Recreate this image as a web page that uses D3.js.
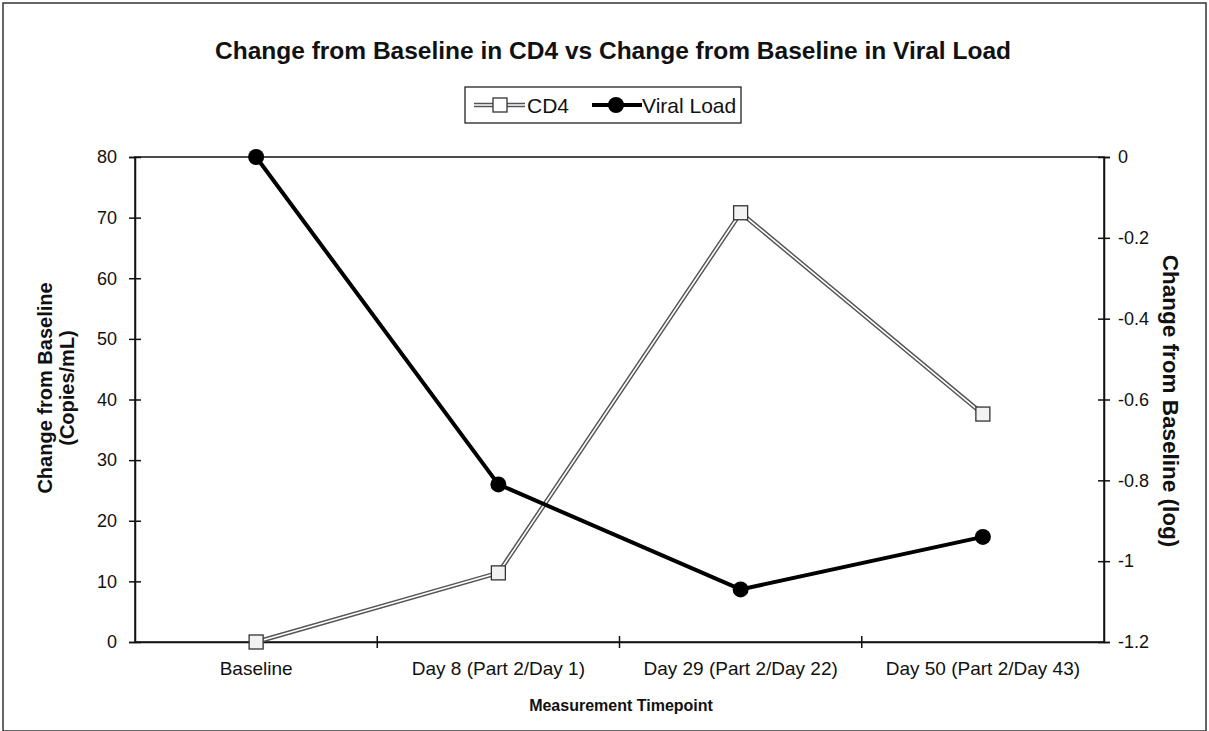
<!DOCTYPE html>
<html>
<head>
<meta charset="utf-8">
<script src="https://cdn.jsdelivr.net/npm/d3@7"></script>
<style>
  body { margin: 0; background: #fff; }
  text { font-family: Arial, "Liberation Sans", sans-serif; fill: #111; }
</style>
</head>
<body>
<div id="chart"></div>
<script>
// data
var categories = ["Baseline", "Day 8 (Part 2/Day 1)", "Day 29 (Part 2/Day 22)", "Day 50 (Part 2/Day 43)"];
var cd4Values = [0, 11.4, 70.8, 37.6];
var viralValues = [0, -0.81, -1.07, -0.94];
var leftTicks = [0, 10, 20, 30, 40, 50, 60, 70, 80];
var rightTicks = [0, -0.2, -0.4, -0.6, -0.8, -1, -1.2];

var width = 1209, height = 731;
var margin = { top: 157, right: 105, bottom: 89, left: 135 }; // plot box 135..1104, 157..642

var svg = d3.select("#chart").append("svg")
  .attr("width", width)
  .attr("height", height);

// outer frame of the scanned chart
svg.append("rect")
  .attr("x", 3).attr("y", 3)
  .attr("width", width - 6).attr("height", height - 3)
  .attr("fill", "none")
  .attr("stroke", "#333")
  .attr("stroke-width", 1.5);

var x = d3.scaleBand()
  .domain(categories)
  .range([margin.left, width - margin.right]);

var yL = d3.scaleLinear()
  .domain([0, 80])
  .range([height - margin.bottom, margin.top]);

var yR = d3.scaleLinear()
  .domain([-1.2, 0])
  .range([height - margin.bottom, margin.top]);

var plotW = width - margin.left - margin.right;
var plotH = height - margin.top - margin.bottom;

// plot border
svg.append("rect")
  .attr("x", margin.left).attr("y", margin.top)
  .attr("width", plotW).attr("height", plotH)
  .attr("fill", "none")
  .attr("stroke", "#111")
  .attr("stroke-width", 1.5);

// left axis
var leftAxis = svg.append("g")
  .attr("transform", "translate(" + margin.left + ",0)")
  .call(d3.axisLeft(yL).tickValues(leftTicks).tickSize(6).tickPadding(12));
leftAxis.selectAll(".tick line").attr("x2", 6).attr("x1", -6);

// right axis, plain hyphen for minus like the original
var rightAxis = svg.append("g")
  .attr("transform", "translate(" + (width - margin.right) + ",0)")
  .call(d3.axisRight(yR).tickValues(rightTicks)
    .tickFormat(function (d) { return String(d); })
    .tickSize(6).tickPadding(8));
rightAxis.selectAll(".tick line").attr("x1", -6).attr("x2", 6);

// bottom axis: ticks between categories (excel style)
var bottomAxis = svg.append("g")
  .attr("transform", "translate(0," + (height - margin.bottom) + ")")
  .call(d3.axisBottom(x).tickSize(0).tickPadding(20));

var bounds = categories.map(function (c) { return x(c); }).slice(1);
svg.append("g")
  .selectAll("line")
  .data(bounds)
  .enter()
  .append("line")
  .attr("x1", function (d) { return d; })
  .attr("x2", function (d) { return d; })
  .attr("y1", height - margin.bottom - 6)
  .attr("y2", height - margin.bottom + 6)
  .attr("stroke", "#111")
  .attr("stroke-width", 1.5);

[leftAxis, rightAxis, bottomAxis].forEach(function (g) {
  g.select(".domain").attr("stroke", "#111").attr("stroke-width", 1.5);
  g.selectAll(".tick line").attr("stroke", "#111").attr("stroke-width", 1.5);
  g.selectAll(".tick text")
    .attr("font-family", "Arial, 'Liberation Sans', sans-serif")
    .attr("fill", "#111");
});
leftAxis.selectAll(".tick text").attr("font-size", "18px");
rightAxis.selectAll(".tick text").attr("font-size", "18px");
bottomAxis.selectAll(".tick text").attr("font-size", "19px");

var cx = function (d, i) { return x(categories[i]) + x.bandwidth() / 2; };

// CD4 line: double outline look
var cd4Line = d3.line()
  .x(function (d, i) { return cx(d, i); })
  .y(function (d) { return yL(d); });

svg.append("path")
  .datum(cd4Values)
  .attr("d", cd4Line)
  .attr("fill", "none")
  .attr("stroke", "#555")
  .attr("stroke-width", 4.5);
svg.append("path")
  .datum(cd4Values)
  .attr("d", cd4Line)
  .attr("fill", "none")
  .attr("stroke", "#fff")
  .attr("stroke-width", 1.6);

// viral load line
var vlLine = d3.line()
  .x(function (d, i) { return cx(d, i); })
  .y(function (d) { return yR(d); });

svg.append("path")
  .datum(viralValues)
  .attr("d", vlLine)
  .attr("fill", "none")
  .attr("stroke", "#000")
  .attr("stroke-width", 4);

// markers
svg.append("g")
  .selectAll("rect")
  .data(cd4Values)
  .enter()
  .append("rect")
  .attr("x", function (d, i) { return cx(d, i) - 7; })
  .attr("y", function (d) { return yL(d) - 7; })
  .attr("width", 14)
  .attr("height", 14)
  .attr("fill", "#f2f2f2")
  .attr("stroke", "#333")
  .attr("stroke-width", 1.3);

svg.append("g")
  .selectAll("circle")
  .data(viralValues)
  .enter()
  .append("circle")
  .attr("cx", function (d, i) { return cx(d, i); })
  .attr("cy", function (d) { return yR(d); })
  .attr("r", 8)
  .attr("fill", "#000");

// title
svg.append("text")
  .attr("x", 613)
  .attr("y", 59)
  .attr("text-anchor", "middle")
  .attr("font-size", "24.5px")
  .attr("font-weight", "bold")
  .text("Change from Baseline in CD4 vs Change from Baseline in Viral Load");

// legend
var legend = svg.append("g").attr("transform", "translate(465,87)");
legend.append("rect")
  .attr("width", 276).attr("height", 36)
  .attr("fill", "#fff")
  .attr("stroke", "#222")
  .attr("stroke-width", 1.3);

var l1 = legend.append("g").attr("transform", "translate(9,18)");
l1.append("line").attr("x1", 0).attr("x2", 51).attr("stroke", "#555").attr("stroke-width", 4.5);
l1.append("line").attr("x1", 0).attr("x2", 51).attr("stroke", "#fff").attr("stroke-width", 1.6);
l1.append("rect").attr("x", 19).attr("y", -7).attr("width", 14).attr("height", 14)
  .attr("fill", "#fff").attr("stroke", "#333").attr("stroke-width", 1.3);
l1.append("text").attr("x", 53).attr("y", 7.5).attr("font-size", "21px").text("CD4");

var l2 = legend.append("g").attr("transform", "translate(127,18)");
l2.append("line").attr("x1", 0).attr("x2", 50).attr("stroke", "#000").attr("stroke-width", 4);
l2.append("circle").attr("cx", 24).attr("r", 8).attr("fill", "#000");
l2.append("text").attr("x", 50).attr("y", 7.5).attr("font-size", "21px").text("Viral Load");

// axis titles
svg.append("text")
  .attr("transform", "translate(52,388) rotate(-90)")
  .attr("text-anchor", "middle")
  .attr("font-size", "20px")
  .attr("font-weight", "bold")
  .text("Change from Baseline");
svg.append("text")
  .attr("transform", "translate(74,388) rotate(-90)")
  .attr("text-anchor", "middle")
  .attr("font-size", "20px")
  .attr("font-weight", "bold")
  .text("(Copies/mL)");

svg.append("text")
  .attr("transform", "translate(1163,401) rotate(90)")
  .attr("text-anchor", "middle")
  .attr("font-size", "22.5px")
  .attr("font-weight", "bold")
  .text("Change from Baseline (log)");

svg.append("text")
  .attr("x", 621)
  .attr("y", 711)
  .attr("text-anchor", "middle")
  .attr("font-size", "16px")
  .attr("font-weight", "bold")
  .text("Measurement Timepoint");
</script>
</body>
</html>
